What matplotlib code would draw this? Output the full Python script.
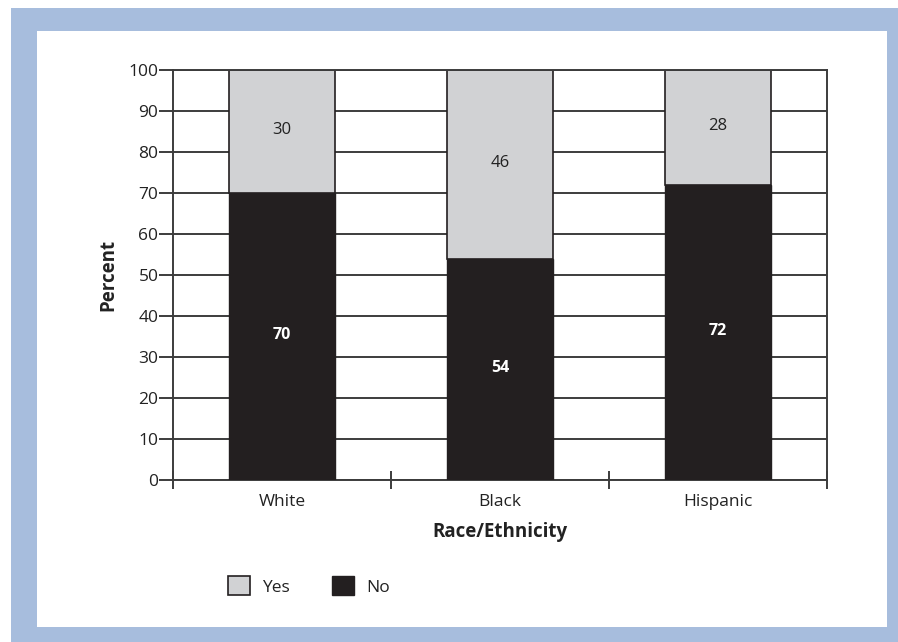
import matplotlib.pyplot as plt
from matplotlib.patches import Rectangle

groups = ["White", "Black", "Hispanic"]
no_vals = [70, 54, 72]
yes_vals = [30, 46, 28]
yticks = list(range(0, 101, 10))

light = "#d1d2d4"
dark = "#231f20"
blue = "#a7bddd"
line = "#3c3c3c"
txt = "#222222"

plt.rcParams["font.family"] = ["Open Sans", "DejaVu Sans"]

W, H = 898, 642
fig = plt.figure(figsize=(W / 100, H / 100), dpi=100)
fig.patch.set_facecolor("white")

# blue frame around the white panel (pixel coords converted to figure fraction)
def px(x0, y0, x1, y1, **kw):
    fig.patches.append(Rectangle((x0 / W, 1 - y1 / H), (x1 - x0) / W, (y1 - y0) / H,
                                 transform=fig.transFigure, **kw))

px(11, 8, 898, 642, facecolor=blue, edgecolor="none", zorder=-3)
px(37, 31, 887, 627, facecolor="white", edgecolor="none", zorder=-2)

ax = fig.add_axes([173 / W, 1 - 480 / H, (827 - 173) / W, (480 - 70) / H])
ax.set_facecolor("none")
ax.set_zorder(1)

x = range(len(groups))
ax.bar(x, no_vals, width=0.49, color=dark, edgecolor=dark, linewidth=1, zorder=3, label="No")
ax.bar(x, yes_vals, width=0.49, bottom=no_vals, color=light, edgecolor=dark,
       linewidth=1.2, zorder=3, label="Yes")

for i in x:
    ax.text(i, no_vals[i] / 2 + 0.3, str(no_vals[i]), ha="center", va="center",
            color="white", fontsize=11.5, fontweight="bold", zorder=4)
    ax.text(i, no_vals[i] + yes_vals[i] / 2 + 0.3, str(yes_vals[i]), ha="center", va="center",
            color=txt, fontsize=12, zorder=4)

ax.set_xlim(-0.5, 2.5)
ax.set_ylim(0, 100)
ax.set_yticks(yticks)
ax.yaxis.grid(True, color=line, linewidth=1.4, zorder=1)
ax.set_axisbelow(True)

ax.set_xticks([-0.5, 0.5, 1.5, 2.5])
ax.set_xticklabels([])
ax.set_xticks(list(x), minor=True)
ax.set_xticklabels(groups, minor=True, fontsize=12.5, color=txt)
ax.tick_params(axis="x", which="major", direction="inout", length=13, width=1.4, color=line)
ax.tick_params(axis="x", which="minor", length=0, pad=10)
ax.tick_params(axis="y", direction="out", length=10, width=1.4, color=line,
               labelsize=12.5, labelcolor=txt, pad=0.5)

for s in ax.spines.values():
    s.set_color(line)
    s.set_linewidth(1.4)
ax.spines["top"].set_zorder(5)

ax.set_xlabel("Race/Ethnicity", fontsize=13.5, fontweight="bold", color=txt, labelpad=9)
ax.set_ylabel("Percent", fontsize=13.5, fontweight="bold", color=txt, labelpad=7)

handles, labels = ax.get_legend_handles_labels()
leg = fig.legend(handles[::-1], labels[::-1], loc="center left", ncol=2,
                 bbox_to_anchor=(212 / W, 1 - 586 / H), frameon=False,
                 fontsize=12.5, handlelength=1.3, handleheight=1.3,
                 columnspacing=2.4, handletextpad=0.7)
for t in leg.get_texts():
    t.set_color(txt)

fig.savefig("out.png", dpi=100)
